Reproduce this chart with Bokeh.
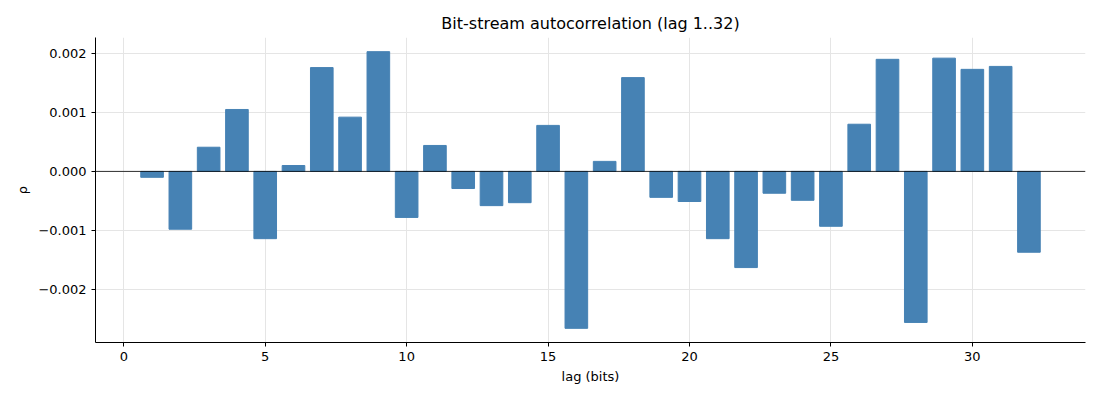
from bokeh.plotting import figure
from bokeh.models import ColumnDataSource, Span, CustomJSTickFormatter, Range1d
from bokeh.embed import file_html
from bokeh.resources import INLINE

lags = list(range(1, 33))
rho = [-0.00010, -0.00098, 0.00041, 0.00105, -0.00114, 0.00010, 0.00176, 0.00092,
       0.00203, -0.00078, 0.00044, -0.00029, -0.00058, -0.00053, 0.00078, -0.00266,
       0.00017, 0.00159, -0.00044, -0.00051, -0.00114, -0.00163, -0.00037, -0.00049,
       -0.00093, 0.00080, 0.00190, -0.00256, 0.00192, 0.00173, 0.00178, -0.00137]

source = ColumnDataSource(data=dict(lag=lags, rho=rho))

p = figure(width=1092, height=392, output_backend="svg", toolbar_location=None,
           title="Bit-stream autocorrelation (lag 1..32)",
           x_range=Range1d(-1, 34), y_range=Range1d(-0.0029, 0.00227),
           min_border_left=95, min_border_right=7, min_border_top=37, min_border_bottom=50)

p.vbar(x='lag', top='rho', bottom=0, width=0.8, source=source, color="#4682b4")
p.add_layout(Span(location=0, dimension="width", line_color="black", line_width=0.8))

p.title.align = "center"
p.title.text_font = "DejaVu Sans"
p.title.text_font_size = "16px"
p.title.text_font_style = "normal"
p.title.text_color = "black"
p.xaxis.axis_label = "lag (bits)"
p.yaxis.axis_label = "ρ"
for ax in (p.xaxis, p.yaxis):
    ax.axis_label_text_font = "DejaVu Sans"
    ax.axis_label_text_font_style = "normal"
    ax.axis_label_text_font_size = "13px"
    ax.axis_label_text_color = "black"
    ax.major_label_text_font = "DejaVu Sans"
    ax.major_label_text_font_size = "13px"
    ax.major_label_text_color = "black"
    ax.axis_line_color = "black"
    ax.major_tick_line_color = "black"
    ax.minor_tick_line_color = None
    ax.major_tick_in = 0
    ax.major_tick_out = 4
p.xaxis.ticker = [0, 5, 10, 15, 20, 25, 30]
p.yaxis.ticker = [-0.002, -0.001, 0, 0.001, 0.002]
p.yaxis.formatter = CustomJSTickFormatter(code="return tick.toFixed(3).replace('-', '\u2212');")
p.grid.grid_line_color = "#e5e5e5"
p.outline_line_color = None

open("out.html", "w").write(file_html(p, INLINE))
